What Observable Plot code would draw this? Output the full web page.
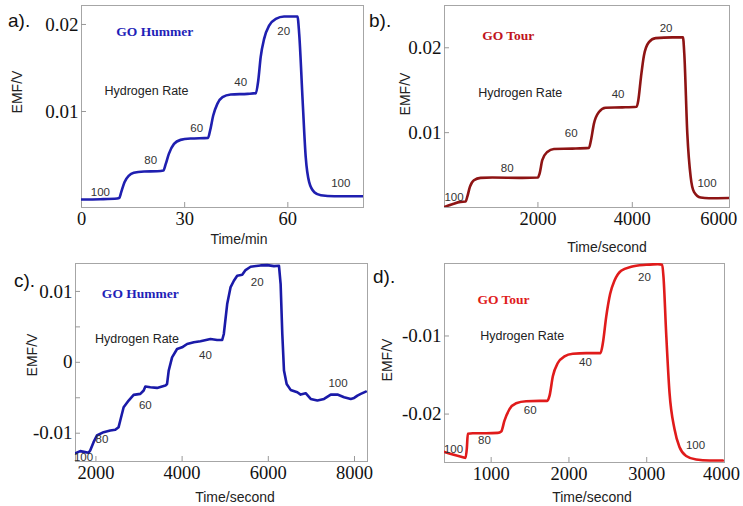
<!DOCTYPE html>
<html><head><meta charset="utf-8">
<script src="https://cdn.jsdelivr.net/npm/d3@7"></script>
<script src="https://cdn.jsdelivr.net/npm/@observablehq/plot@0.6"></script>
<style>
body{margin:0;background:#fff;}
#root{position:relative;width:743px;height:506px;overflow:hidden;background:#fff;}
.panel{position:absolute;}
.lab{position:absolute;font-family:"Liberation Sans",Arial,sans-serif;color:#222;white-space:nowrap;transform:translate(-50%,-50%);}
.letter{font-size:19px;color:#111;transform:none;}
.rot{transform:translate(-50%,-50%) rotate(-90deg);}
</style></head><body><div id="root"></div>
<script>
// ---------- data ----------
const aTime = [0,5.5,10.4,11.0,11.55,12.5,13.8,15.2,18.2,22.0,23.8,24.5,25.4,26.9,28.8,31.7,36.8,37.4,38.3,39.5,41.0,43.4,48.3,50.7,51.4,52.1,53.1,54.6,56.5,58.9,62.8,63.3,64.3,65.2,66.2,67.7,69.6,73.5,82.0];
const aEMF  = [-0.00011,-0.00008,0,0.00008,0.00073,0.00188,0.00264,0.00295,0.0031,0.00314,0.00322,0.00398,0.00513,0.00628,0.00674,0.0069,0.00697,0.00782,0.00954,0.01088,0.01165,0.01195,0.01203,0.01211,0.01356,0.01625,0.01835,0.01989,0.02065,0.02092,0.02092,0.01893,0.01126,0.00475,0.00188,0.00073,0.00038,0.00027,0.00027];

const bTime = [21,184,360,466,502,558,643,784,1032,1668,2000,2035,2092,2198,2339,2728,3081,3124,3187,3293,3435,3788,4092,4127,4184,4247,4353,4494,4848,5074,5102,5166,5237,5307,5449,5625,6064];
const bEMF  = [0.00125,0.00157,0.00184,0.00188,0.00243,0.00361,0.00439,0.00467,0.00471,0.00467,0.00471,0.00518,0.00675,0.00773,0.00808,0.00812,0.0082,0.0091,0.01106,0.01243,0.01294,0.01298,0.01306,0.0138,0.01655,0.0191,0.02067,0.02114,0.02122,0.02122,0.01929,0.00988,0.00478,0.00302,0.00235,0.00227,0.0023];

const cTime = [1530,1635,1751,1829,1867,1945,2022,2178,2333,2449,2526,2565,2643,2759,2875,3030,3108,3147,3263,3418,3612,3651,3689,3767,3883,3999,4116,4271,4426,4658,4813,4930,4968,5046,5123,5201,5278,5395,5472,5589,5821,5976,6131,6248,6286,6325,6364,6426,6518,6673,6751,6867,6984,7139,7294,7449,7604,7759,7914,7992,8069,8146,8262];
const cEMF  = [-0.01281,-0.01253,-0.01267,-0.01276,-0.01244,-0.01126,-0.01032,-0.00985,-0.00961,-0.00952,-0.00915,-0.00821,-0.00633,-0.00539,-0.00459,-0.00445,-0.00398,-0.00342,-0.00352,-0.00361,-0.00328,-0.00305,-0.00117,0.00070,0.00188,0.00212,0.00259,0.00282,0.00296,0.00329,0.00315,0.00315,0.00400,0.00822,0.01057,0.01151,0.01221,0.01235,0.01301,0.01348,0.01367,0.01371,0.01357,0.01362,0.01104,0.00400,-0.00117,-0.00305,-0.00389,-0.00422,-0.00455,-0.00436,-0.00516,-0.00539,-0.00516,-0.00455,-0.00455,-0.00492,-0.00516,-0.00502,-0.00469,-0.00445,-0.00413];

const dTime = [400,507,636,670,687,700,764,936,1086,1129,1171,1236,1321,1450,1621,1720,1750,1793,1857,1943,2050,2221,2406,2436,2479,2530,2586,2671,2800,2993,3143,3199,3216,3250,3293,3357,3421,3507,3636,3807,3979];
const dEMF  = [-0.02485,-0.02519,-0.02553,-0.02561,-0.02443,-0.02253,-0.02245,-0.02245,-0.02241,-0.02224,-0.02084,-0.01937,-0.01861,-0.01835,-0.01831,-0.01831,-0.01768,-0.01515,-0.01346,-0.01262,-0.01228,-0.01219,-0.01219,-0.01093,-0.00755,-0.00460,-0.00291,-0.00165,-0.00114,-0.00089,-0.00080,-0.00089,-0.00249,-0.00966,-0.01726,-0.02190,-0.02422,-0.02536,-0.02582,-0.02595,-0.02595];

const rateLabels = ["100","80","60","40","20","100"];
const aRateT = [5.5,20.1,33.5,46.3,58.8,75.4];
const aRateV = [0.00069,0.00437,0.00805,0.01333,0.0192,0.00172];
const bRateT = [222,1350,2705,3699,4715,5583];
const bRateV = [0.00235,0.0058,0.00992,0.01451,0.02227,0.00404];
const cRateT = [1712,2139,3146,4542,5743,7619];
const cRateV = [-0.01337,-0.01079,-0.0061,0.00094,0.01127,-0.00296];
const dRateT = [516,914,1501,2213,2971,3627];
const dRateV = [-0.02451,-0.02338,-0.01958,-0.01338,-0.00249,-0.02401];

const aXTicks = [0,30,60];       const aYTicks = [0.01,0.02];
const bXTicks = [2000,4000];     const bXEdgeTick = [6000]; const bYTicks = [0.01,0.02];
const cXTicks = [2000,4000,6000,8000]; const cYTicks = [-0.01,0,0.01]; const cYMinor = [-0.005,0.005];
const dXTicks = [1000,2000,3000]; const dXEdgeTick = [4000]; const dYTicks = [-0.02,-0.01];

const panelTitles = ["GO Hummer","GO Tour","GO Hummer","GO Tour"];
const titleT = [21.3,1371,3030,1159];
const titleV = [0.0192,0.02145,0.00963,-0.00536];
const hydroT = [18.9,1625,2953,1399];
const hydroV = [0.01241,0.01462,0.00329,-0.01];
const panelLetters = ["a).","b).","c).","d)."];
const xTitles = ["Time/min","Time/second","Time/second","Time/second"];
const yTitle = "EMF/V";

// ---------- drawing ----------
const root = document.getElementById("root");
const serif = "'Liberation Serif','Times New Roman',serif";
const sans = "'Liberation Sans',Arial,sans-serif";
const fmt = d => String(d);

function panel(cfg) {
  const pts = cfg.t.map((t, i) => ({t, v: cfg.v[i]}));
  const rates = rateLabels.map((s, i) => ({s, t: cfg.rt[i], v: cfg.rv[i]}));
  const xa = {label: null, tickSize: -5, tickPadding: 9, stroke: "#999", fontSize: 18.5, fontFamily: serif, fill: "#111", tickFormat: fmt};
  const ya = {label: null, tickSize: -5, tickPadding: 8, stroke: "#999", fontSize: 19, fontFamily: serif, fill: "#111", tickFormat: fmt};
  const marks = [
    Plot.frame({stroke: "#a6a6a6"}),
    Plot.axisX(cfg.xt, xa),
    Plot.axisY(cfg.yt, ya),
  ];
  if (cfg.xe) marks.push(Plot.axisX(cfg.xe, {...xa, tickSize: 0, tickPadding: 4, dx: cfg.xeDx}));
  if (cfg.ym) marks.push(Plot.axisY(cfg.ym, {label: null, tickSize: -5, stroke: "#999", tickFormat: () => ""}));
  marks.push(
    Plot.line(pts, {x: "t", y: "v", stroke: cfg.color, strokeWidth: 2.6, curve: cfg.curve, clip: true}),
    Plot.text(rates, {x: "t", y: "v", text: "s", fontSize: 11.5, fontFamily: sans, fill: "#333"}),
    Plot.text([cfg.title], {x: cfg.tt, y: cfg.tv, text: d => d, fontSize: 13.5, fontWeight: "bold", fontFamily: serif, fill: cfg.titleColor}),
    Plot.text(["Hydrogen Rate"], {x: cfg.ht, y: cfg.hv, text: d => d, fontSize: 12.5, fontFamily: sans, fill: "#222"})
  );
  const svg = Plot.plot({
    width: cfg.w, height: cfg.h,
    marginLeft: cfg.ml, marginRight: cfg.mr, marginTop: cfg.mt, marginBottom: cfg.mb,
    x: {domain: cfg.xd, axis: null, label: null},
    y: {domain: cfg.yd, axis: null, label: null},
    style: {background: "transparent", overflow: "visible"},
    marks
  });
  svg.classList.add("panel");
  svg.style.left = cfg.left + "px";
  svg.style.top = cfg.top + "px";
  root.appendChild(svg);
}

function label(text, x, y, cls, size) {
  const d = document.createElement("div");
  d.className = "lab " + (cls || "");
  d.textContent = text;
  d.style.left = x + "px"; d.style.top = y + "px";
  d.style.fontSize = size + "px";
  root.appendChild(d);
}

panel({left: 0, top: 0, w: 372, h: 250, ml: 81, mr: 9, mt: 5, mb: 43,
  xd: [0, 82], yd: [-0.00103, 0.02218], xt: aXTicks, yt: aYTicks,
  t: aTime, v: aEMF, color: "#1f1fb0", curve: "monotone-x",
  rt: aRateT, rv: aRateV, title: panelTitles[0], tt: titleT[0], tv: titleV[0], titleColor: "#1f1fb8",
  ht: hydroT[0], hv: hydroV[0]});
panel({left: 372, top: 0, w: 371, h: 250, ml: 72, mr: 14, mt: 5, mb: 43,
  xd: [20, 6060], yd: [0.00118, 0.02498], xt: bXTicks, xe: bXEdgeTick, xeDx: -8, yt: bYTicks,
  t: bTime, v: bEMF, color: "#8e1414", curve: "monotone-x",
  rt: bRateT, rv: bRateV, title: panelTitles[1], tt: titleT[1], tv: titleV[1], titleColor: "#c0141c",
  ht: hydroT[1], hv: hydroV[1]});
panel({left: 0, top: 250, w: 372, h: 256, ml: 75, mr: 5, mt: 13, mb: 45,
  xd: [1526, 8302], yd: [-0.01399, 0.01394], xt: cXTicks, yt: cYTicks, ym: cYMinor,
  t: cTime, v: cEMF, color: "#1a1aa8", curve: "linear",
  rt: cRateT, rv: cRateV, title: panelTitles[2], tt: titleT[2], tv: titleV[2], titleColor: "#1f1fb8",
  ht: hydroT[2], hv: hydroV[2]});
panel({left: 372, top: 250, w: 371, h: 256, ml: 72, mr: 19, mt: 13, mb: 44,
  xd: [400, 4000], yd: [-0.0262, -0.00072], xt: dXTicks, xe: dXEdgeTick, xeDx: -3, yt: dYTicks,
  t: dTime, v: dEMF, color: "#e01b1b", curve: "monotone-x",
  rt: dRateT, rv: dRateV, title: panelTitles[3], tt: titleT[3], tv: titleV[3], titleColor: "#e01b1b",
  ht: hydroT[3], hv: hydroV[3]});

// outer labels
label(panelLetters[0], 8, 10, "letter", 19);
label(panelLetters[1], 369, 10, "letter", 19);
label(panelLetters[2], 14, 270, "letter", 19);
label(panelLetters[3], 373, 266, "letter", 19);
label(yTitle, 17, 92, "rot", 14);
label(yTitle, 405, 94, "rot", 14);
label(yTitle, 32, 355, "rot", 14);
label(yTitle, 387, 360, "rot", 14);
label(xTitles[0], 239, 239, "", 14);
label(xTitles[1], 607, 247, "", 14);
label(xTitles[2], 235, 497, "", 14);
label(xTitles[3], 592, 497, "", 14);
</script></body></html>
